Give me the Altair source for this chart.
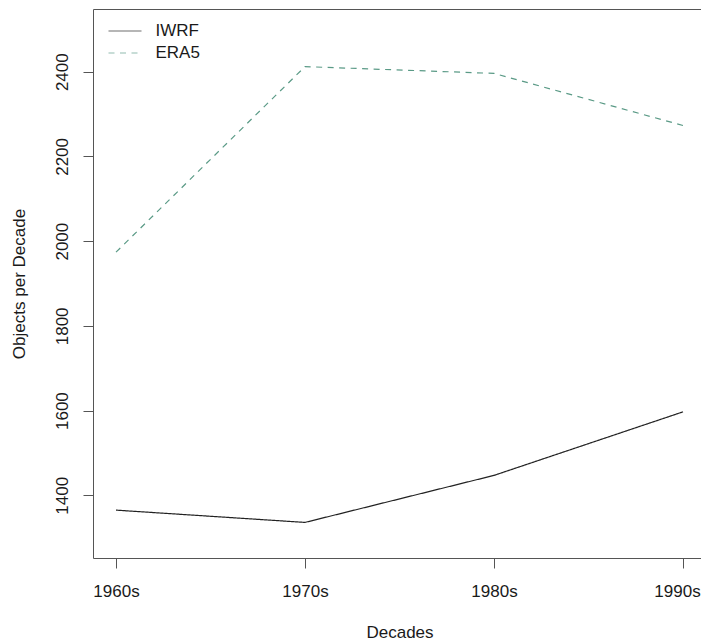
import altair as alt
import pandas as pd

decades = ["1960s", "1970s", "1980s", "1990s"]
iwrf = [1365, 1336, 1447, 1597]
era5 = [1974, 2412, 2396, 2273]
series_names = ["IWRF", "ERA5"]
y_ticks = [1400, 1600, 1800, 2000, 2200, 2400]

rows = []
for name, vals in zip(series_names, [iwrf, era5]):
    for d, v in zip(decades, vals):
        rows.append({"decade": d, "value": v, "series": name})
df = pd.DataFrame(rows)

FONT = "Liberation Sans"
FS = 17
legend = alt.Legend(
    title=None,
    orient="none",
    legendX=23.5,
    legendY=13.5,
    padding=0,
    symbolType="M-3,0L3,0",
    symbolSize=121,
    symbolStrokeWidth=1.2,
    symbolOpacity=0.65,
    labelOffset=22,
    labelFont=FONT,
    labelFontSize=FS,
    labelColor="#1a1a1a",
    rowPadding=4,
)

chart = alt.Chart(df).mark_line(strokeWidth=1.2).encode(
    x=alt.X(
        "decade:O",
        sort=decades,
        scale=alt.Scale(type="point", padding=0.1085, align=0.561),
        axis=alt.Axis(
            title="Decades",
            labelAngle=0,
            domain=False,
            grid=False,
            tickSize=10,
            tickColor="#555555",
            labelPadding=23,
            labelBaseline="middle",
            labelOffset={"condition": {"test": f"datum.label == '{decades[-1]}'", "value": -6}, "value": 0},
            labelFont=FONT,
            labelFontSize=FS,
            labelColor="#1a1a1a",
            titleFont=FONT,
            titleFontSize=FS,
            titleFontWeight="normal",
            titleColor="#1a1a1a",
            titleX=306.5,
            titleY=74,
            titleBaseline="middle",
            titleAlign="center",
        ),
    ),
    y=alt.Y(
        "value:Q",
        scale=alt.Scale(domain=[1252, 2548], nice=False, zero=False),
        axis=alt.Axis(
            title="Objects per Decade",
            values=y_ticks,
            format="d",
            domain=False,
            grid=False,
            tickSize=10,
            tickColor="#555555",
            labelAngle=270,
            labelAlign="center",
            labelBaseline="middle",
            labelPadding=21,
            labelFont=FONT,
            labelFontSize=FS,
            labelColor="#1a1a1a",
            titleFont=FONT,
            titleFontSize=FS,
            titleFontWeight="normal",
            titleColor="#1a1a1a",
            titleAngle=270,
            titleX=-74,
            titleY=274.5,
            titleBaseline="middle",
            titleAlign="center",
        ),
    ),
    color=alt.Color(
        "series:N",
        sort=series_names,
        scale=alt.Scale(domain=series_names, range=["#222222", "#5a9a86"]),
        legend=legend,
    ),
    strokeDash=alt.StrokeDash(
        "series:N",
        sort=series_names,
        scale=alt.Scale(domain=series_names, range=[[1, 0], [6, 5.5]]),
        legend=legend,
    ),
).properties(
    width=608,
    height=549,
    autosize=alt.AutoSizeParams(type="none"),
    padding={"left": 85, "top": 1, "right": 0, "bottom": 83},
).configure_view(
    stroke="#555555",
    strokeWidth=1,
)

chart.save("out.html", embed_options={"renderer": "svg", "actions": False})
